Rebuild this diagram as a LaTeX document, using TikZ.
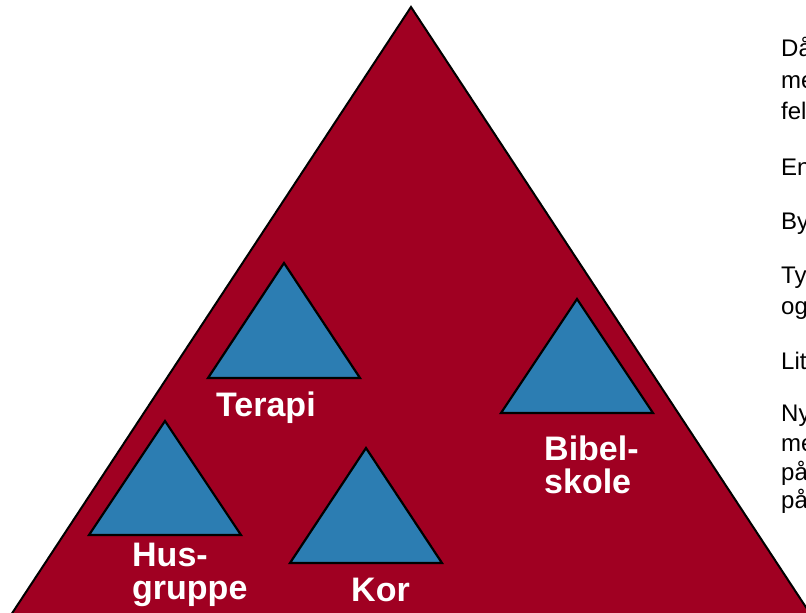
\documentclass[tikz,border=0pt]{standalone}
\usepackage{fontspec}
\setmainfont{Liberation Sans}
\definecolor{bigred}{RGB}{160,0,34}
\definecolor{tblue}{RGB}{44,125,178}
\begin{document}
\begin{tikzpicture}[x=1pt,y=-1pt,
  tri/.style={fill=tblue,draw=black,line width=2.2pt,line join=miter},
  lbl/.style={text=white,font=\fontsize{34}{34}\selectfont\bfseries,inner sep=0pt,anchor=base west},
  side/.style={text=black,font=\fontsize{24}{30}\selectfont,inner sep=0pt,anchor=base west}]
\useasboundingbox (0,0) rectangle (806,613);
\clip (0,0) rectangle (806,613);
\fill[white] (0,0) rectangle (806,613);
% big triangle
\draw[fill=bigred,line width=2pt,line join=miter] (411,7) -- (867,700) -- (-45,700) -- cycle;
% small triangles
\draw[tri] (284,263) -- (360,378) -- (208,378) -- cycle;
\draw[tri] (165,421) -- (241,535) -- (89,535) -- cycle;
\draw[tri] (366,448) -- (442,563) -- (290,563) -- cycle;
\draw[tri] (577,299) -- (653,413) -- (501,413) -- cycle;
% labels
\node[lbl] (terapi) at (216,416) {Terapi};
\node[lbl] (husA) at (132,566) {Hus-};
\node[lbl] (husB) at (132,599) {gruppe};
\node[lbl] (kor) at (351,601) {Kor};
\node[lbl] (bibA) at (544,460) {Bibel-};
\node[lbl] (bibB) at (544,493) {skole};
% side text
\node[side] (s1) at (781,56) {Då};
\node[side] (s2) at (781,88) {me};
\node[side] (s3) at (781,119) {fel};
\node[side] (s4) at (781,175) {En};
\node[side] (s5) at (781,229) {By};
\node[side] (s6) at (781,283) {Ty};
\node[side] (s7) at (781,314) {og};
\node[side] (s8) at (781,369) {Lit};
\node[side] (s9) at (781,421) {Ny};
\node[side] (s10) at (781,451) {me};
\node[side] (s11) at (781,480) {på};
\node[side] (s12) at (781,508) {på};
\end{tikzpicture}
\end{document}
